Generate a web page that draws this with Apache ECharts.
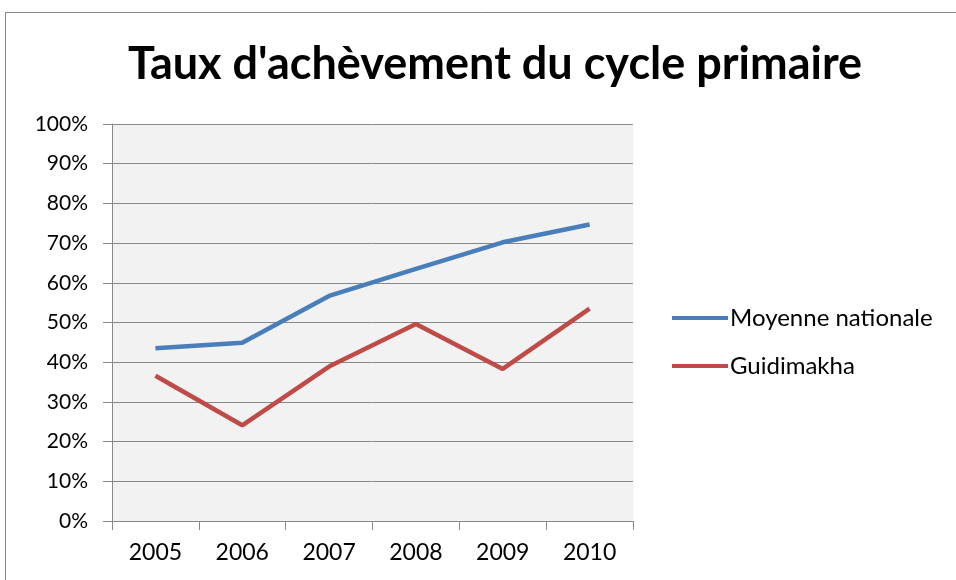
<!DOCTYPE html>
<html><head><meta charset="utf-8">
<script src="https://cdn.jsdelivr.net/npm/echarts@6/dist/echarts.min.js"></script>
<style>html,body{margin:0;padding:0;background:#fff}#c{width:956px;height:580px}</style>
</head><body><div id="c"></div>
<script>
const titleText = "Taux d'achèvement du cycle primaire";
const categories = ["2005","2006","2007","2008","2009","2010"];
const moyenneNationale = [43.5, 44.9, 56.7, 63.5, 70.2, 74.7];
const guidimakha = [36.6, 24.1, 38.9, 49.6, 38.3, 53.5];
const seriesNames = ["Moyenne nationale", "Guidimakha"];

const chart = echarts.init(document.getElementById('c'));
const font = 'Lato, "Open Sans", sans-serif';
chart.setOption({
  animation: false,
  backgroundColor: '#fff',
  graphic: [{type:'rect', shape:{x:5.5,y:12.5,width:1000,height:600}, style:{fill:'none', stroke:'#888', lineWidth:1}, silent:true, z:-1}],
  title: {text: titleText, left: 490, textAlign: 'center', top: 37,
    textStyle:{fontFamily: font, fontWeight:'bold', fontSize:45, color:'#000'}},
  grid: {left:112, right:323, top:124, bottom:59, show:true, backgroundColor:'#F2F2F2', borderWidth:0},
  legend: {orient:'vertical', left:667, top:301, itemGap:24, itemWidth:56, itemHeight:4, icon:'rect',
    textStyle:{fontFamily: font, fontSize:24, color:'#000', padding:[0,0,0,-3]},
    data: seriesNames},
  xAxis: {type:'category', data: categories, boundaryGap:true,
    axisLine:{lineStyle:{color:'#888', width:1}},
    axisTick:{show:true, length:9, lineStyle:{color:'#888'}},
    axisLabel:{fontFamily: font, fontSize:23, color:'#000', margin:20}},
  yAxis: {type:'value', min:0, max:100, interval:10,
    axisLine:{show:true, lineStyle:{color:'#888', width:1}},
    axisTick:{show:true, length:9, lineStyle:{color:'#888'}},
    splitLine:{lineStyle:{color:'#888', width:1}},
    axisLabel:{fontFamily: font, fontSize:21, color:'#000', margin:24, formatter: v => v + '%'}},
  series: [
    {name: seriesNames[0], type:'line', data: moyenneNationale, symbol:'none',
      lineStyle:{color:'#4A7EBB', width:4.5}, itemStyle:{color:'#4A7EBB'}},
    {name: seriesNames[1], type:'line', data: guidimakha, symbol:'none',
      lineStyle:{color:'#BE4B48', width:4.5}, itemStyle:{color:'#BE4B48'}}
  ]
});
</script></body></html>
